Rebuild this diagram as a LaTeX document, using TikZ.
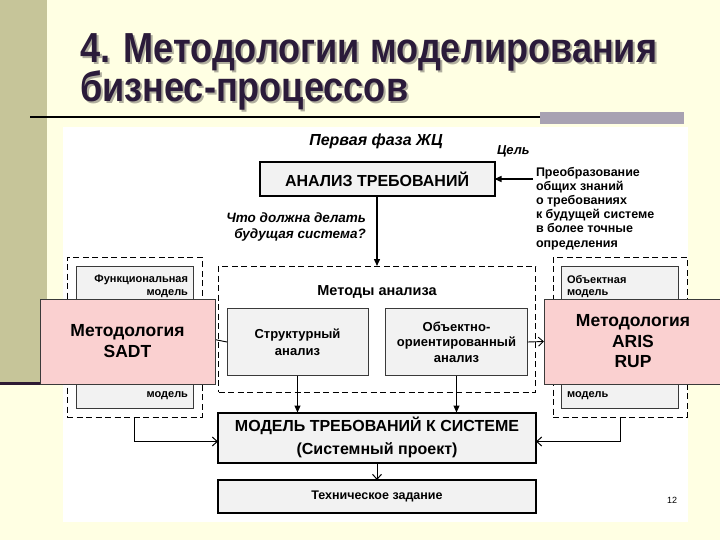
\documentclass[tikz,border=0pt]{standalone}
\usepackage{fontspec}
\setmainfont{Liberation Sans}
\newfontfamily\titlefont[FakeStretch=0.86]{Liberation Sans}
\usetikzlibrary{arrows.meta}
\definecolor{cream}{HTML}{FFFFE3}
\definecolor{olivebar}{HTML}{C6C599}
\definecolor{darkline}{HTML}{2D1A33}
\definecolor{graybar}{HTML}{A8A2B2}
\definecolor{boxgray}{HTML}{F2F2F2}
\definecolor{pinkfill}{HTML}{FAD0D0}
\definecolor{titlecol}{HTML}{2B1B3A}
\definecolor{shadowcol}{HTML}{B0AE9E}
\definecolor{edgegray}{HTML}{3A3A3A}
\newcommand{\fsz}[2]{\fontsize{#1}{#2}\selectfont}
\newcommand{\shadowed}[1]{\rlap{\hspace{2pt}\raisebox{-2pt}{\textcolor{shadowcol}{#1}}}#1}
\begin{document}
\begin{tikzpicture}[x=1pt,y=-1pt,
  every node/.style={inner sep=0pt, outer sep=0pt},
  solidbox/.style={draw=black, fill=boxgray, line width=#1},
  dashbox/.style={draw=black, line width=0.9pt, dash pattern=on 6pt off 3.5pt},
  innerbox/.style={draw=edgegray, fill=boxgray, line width=1pt},
  pinkbox/.style={draw=edgegray, fill=pinkfill, line width=0.9pt},
  fillarrow/.style={-{Triangle[length=7pt,width=6pt]}, line width=1.4pt},
  openarrow/.style={-{Straight Barb[length=5pt,width=9pt]}, line width=1pt},
  titletext/.style={anchor=base west, text=titlecol, font=\titlefont\fsz{42}{39}\bfseries},
]
\useasboundingbox (0,0) rectangle (720,540);
% background
\fill[cream] (0,0) rectangle (720,540);
\fill[olivebar] (0,0) rectangle (47,383);
\fill[darkline] (0,382) rectangle (48,385);
\draw[line width=2pt] (30,117) -- (540,117);
\fill[graybar] (540,112) rectangle (684,124);
\fill[white] (63,127) rectangle (688,522);
% title
\node[titletext] (title) at (80,63) {\begin{tabular}[t]{@{}l@{}}\shadowed{4. Методологии моделирования}\\[-4.4pt]\shadowed{бизнес-процессов}\end{tabular}};
% top part
\node[font=\fsz{16}{16}\bfseries\itshape] (phase) at (376,141) {Первая фаза ЖЦ};
\node[anchor=west, font=\fsz{13}{13}\bfseries\itshape] (goal) at (497,151) {Цель};
\node[solidbox=2pt, minimum width=235pt, minimum height=34pt, font=\fsz{16}{16}\bfseries] (anal) at (377,179) {АНАЛИЗ ТРЕБОВАНИЙ};
\node[anchor=north west, align=left, font=\fsz{12.5}{14.2}\bfseries] (goaltext) at (536,167) {Преобразование\\общих знаний\\о требованиях\\к будущей системе\\в более точные\\определения};
\draw[fillarrow] ([xshift=-3pt]goaltext.west |- anal.east) -- (anal.east);
\node[anchor=north east, align=right, font=\fsz{13.5}{16}\bfseries\itshape] (question) at (366,213) {Что должна делать\\будущая система?};
% methods
\node[dashbox, minimum width=317pt, minimum height=126pt] (methods) at (377,329) {};
\draw[fillarrow] (anal.south) -- (methods.north);
\node[font=\fsz{14.5}{14.5}\bfseries] (methodslbl) at (377,292) {Методы анализа};
\node[innerbox, minimum width=141pt, minimum height=67pt, align=center, font=\fsz{13}{16.5}\bfseries] (struct) at (297.5,342) {Структурный\\анализ};
\node[innerbox, minimum width=142pt, minimum height=67pt, align=center, font=\fsz{13}{15.5}\bfseries] (oop) at (456.5,342) {Объектно-\\ориентированный\\анализ};
% left model
\node[dashbox, minimum width=135pt, minimum height=160pt] (leftdash) at (134.5,337) {};
\node[innerbox, minimum width=117pt, minimum height=142pt] (leftinner) at (134.5,337) {};
\node[anchor=north east, align=right, font=\fsz{11}{12.5}\bfseries] (funclbl) at (188,275) {Функциональная\\модель};
\node[anchor=south east, font=\fsz{11}{12.5}\bfseries] (leftbot) at (188,400) {модель};
% right model
\node[dashbox, minimum width=134pt, minimum height=160pt] (rightdash) at (620,337) {};
\node[innerbox, minimum width=117pt, minimum height=142pt] (rightinner) at (619.5,337) {};
\node[anchor=north west, align=left, font=\fsz{11}{12.5}\bfseries] (objlbl) at (567,275) {Объектная\\модель};
\node[anchor=south west, font=\fsz{11}{12.5}\bfseries] (rightbot) at (567,400) {модель};
\draw[line width=0.9pt] (struct.west) -- (leftdash.east);
% model & tz
\node[solidbox=2pt, minimum width=318pt, minimum height=50pt, align=center, font=\fsz{16}{23}\bfseries] (model) at (377,437.5) {МОДЕЛЬ ТРЕБОВАНИЙ К СИСТЕМЕ\\(Системный проект)};
\node[solidbox=1.5pt, minimum width=318pt, minimum height=33pt, font=\fsz{12.5}{12.5}\bfseries] (tz) at (377,496.5) {Техническое задание};
\draw[fillarrow, line width=1pt] (struct.south) -- (struct.south |- model.north);
\draw[fillarrow, line width=1pt] (oop.south) -- (oop.south |- model.north);
\draw[openarrow] (leftdash.south) |- ([yshift=-4pt]model.west);
\draw[openarrow] (rightdash.south) |- ([yshift=-4pt]model.east);
\draw[openarrow] (model.south) -- (tz.north);
\node[font=\fsz{9}{9}] (pnum) at (672,500) {12};
% pink overlays
\node[pinkbox, minimum width=175pt, minimum height=85pt, align=center, font=\fsz{17.5}{21}\bfseries] (pinkL) at (127.5,341.5) {Методология\\SADT};
\node[pinkbox, minimum width=178pt, minimum height=85pt, align=center, font=\fsz{17.5}{20.5}\bfseries] (pinkR) at (633,341.5) {Методология\\ARIS\\RUP};
\draw[openarrow, line width=0.9pt] (oop.east) -- (pinkR.west);
\end{tikzpicture}
\end{document}
